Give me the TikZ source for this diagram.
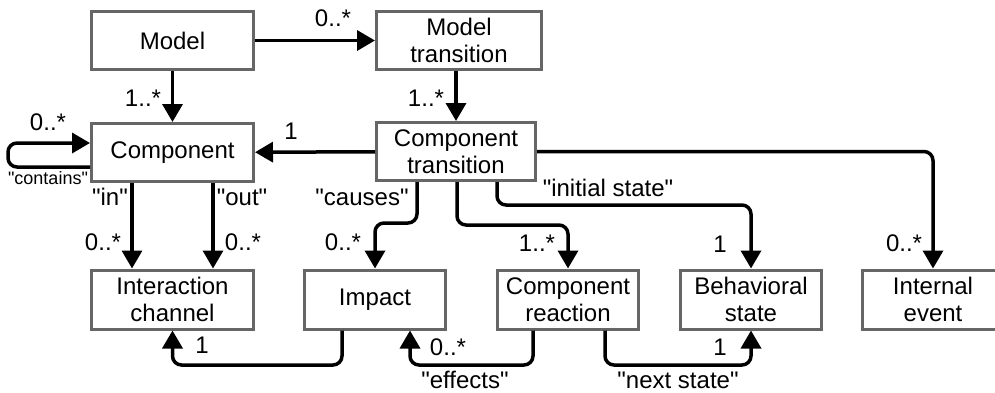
\documentclass[tikz,border=0pt]{standalone}
\usepackage{fontspec}
\setmainfont{Liberation Sans}
\usetikzlibrary{arrows.meta,positioning}
\newcommand\qt[1]{\textquotedbl#1\textquotedbl}

\begin{document}
\begin{tikzpicture}[x=0.5pt,y=-0.5pt,
  cls/.style={draw=black!60,line width=1.5pt,fill=white,align=center,inner sep=0pt,
    minimum height=29.5pt,font=\fontsize{12}{13.5}\selectfont},
  conn/.style={line width=1.75pt,rounded corners=4.5pt,-{Triangle[length=9pt,width=10pt]}},
  lbl/.style={inner sep=0pt,font=\fontsize{12}{14}\selectfont}]
  \useasboundingbox (0,0) rectangle (995,392);
  \node [cls,minimum width=81pt,minimum height=29pt] (model) at (172.5,40.5) {Model};
  \node [cls,minimum width=82.5pt,minimum height=29pt] (mtrans) at (459,40.5) {Model\\transition};
  \node [cls,minimum width=81pt,minimum height=29pt] (comp) at (172.5,152.5) {Component};
  \node [cls,minimum width=79.5pt,minimum height=29pt] (ctrans) at (456,151.5) {Component\\transition};
  \node [cls,minimum width=81pt] (chan) at (172.5,299.5) {Interaction\\channel};
  \node [cls,minimum width=70.5pt] (impact) at (375,299.5) {Impact};
  \node [cls,minimum width=70.5pt] (react) at (568,299.5) {Component\\reaction};
  \node [cls,minimum width=70.5pt] (bstate) at (751,299.5) {Behavioral\\state};
  \node [cls,minimum width=70.5pt] (ievent) at (933,299.5) {Internal\\event};

  \draw [conn] (model) -- (mtrans);
  \draw [conn] (model) -- (comp);
  \draw [conn] (mtrans.south -| ctrans) -- (ctrans);
  \draw [conn] (ctrans) -- (comp);
  \draw [conn] (comp.west |- 0,167) -- (8,167) -- (8,143) -- (comp.west |- 0,143);
  \draw [conn] (comp.south -| 132,0) -- (chan.north -| 132,0);
  \draw [conn] (comp.south -| 213,0) -- (chan.north -| 213,0);
  \draw [conn] (ctrans.south -| 417,0) -- (417,223) -| (impact.north);
  \draw [conn] (ctrans.south -| 457,0) -- (457,225) -| (react.north);
  \draw [conn] (ctrans.south -| 497,0) -- (497,205) -| (bstate.north);
  \draw [conn] (ctrans.east) -| (ievent.north);
  \draw [conn] (impact.south -| 342,0) -- (342,365) -| (chan.south);
  \draw [conn] (react.south -| 533,0) -- (533,365) -| (impact.south -| 410,0);
  \draw [conn] (react.south -| 605,0) -- (605,365) -| (bstate.south);

  \node [lbl] (m1) at (333,18) {0..*};
  \node [lbl] (m2) at (143,98) {1..*};
  \node [lbl] (m3) at (426,98) {1..*};
  \node [lbl] (m4) at (291,131) {1};
  \node [lbl] (m5) at (48,122) {0..*};
  \node [lbl,font=\fontsize{9}{11}\selectfont] (r1) at (48,178) {\qt{contains}};
  \node [lbl] (r2) at (110,197) {\qt{in}};
  \node [lbl] (r3) at (242,197) {\qt{out}};
  \node [lbl] (m6) at (103,242) {0..*};
  \node [lbl] (m7) at (243,242) {0..*};
  \node [lbl] (r4) at (362,197) {\qt{causes}};
  \node [lbl] (m8) at (343,242) {0..*};
  \node [lbl] (m9) at (537,243) {1..*};
  \node [lbl] (r5) at (608,188) {\qt{initial state}};
  \node [lbl] (m10) at (720,244) {1};
  \node [lbl] (m11) at (904,243) {0..*};
  \node [lbl] (m12) at (202,345) {1};
  \node [lbl] (m13) at (448,347) {0..*};
  \node [lbl] (r6) at (465,380) {\qt{effects}};
  \node [lbl] (m14) at (720,347) {1};
  \node [lbl] (r7) at (678,380) {\qt{next state}};
\end{tikzpicture}
\end{document}
